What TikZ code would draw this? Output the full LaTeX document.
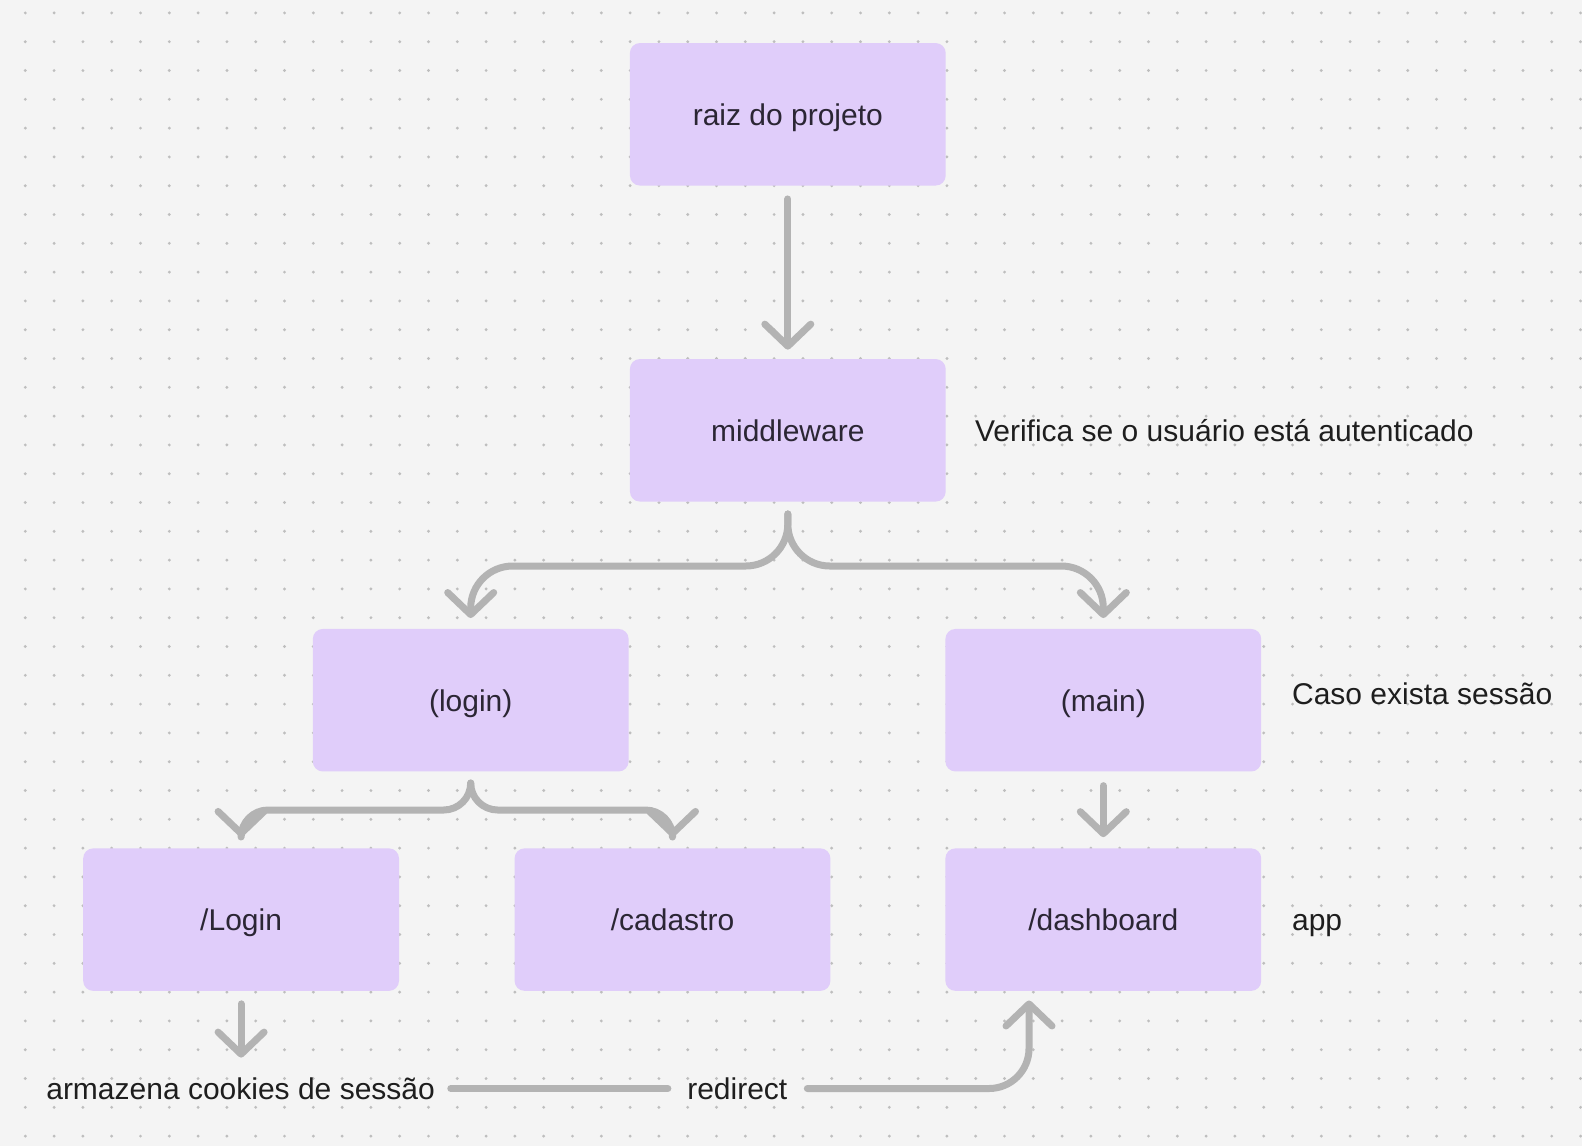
\documentclass[tikz,border=0pt]{standalone}
\usepackage{fontspec}
\setmainfont{Liberation Sans}
\usetikzlibrary{arrows.meta}
\definecolor{bg}{HTML}{F4F4F4}
\definecolor{dotc}{HTML}{BEBEBE}
\definecolor{boxfill}{HTML}{E0CDFA}
\definecolor{linegray}{HTML}{B3B3B3}
\definecolor{boxtext}{HTML}{2B2634}
\definecolor{plaintext}{HTML}{1E1E1E}
\tikzset{
  box/.style={rectangle, rounded corners=5pt, fill=boxfill, draw=none,
    minimum width=157.9pt, minimum height=71.25pt, inner sep=0pt,
    font=\fontsize{15pt}{18pt}\selectfont, text=boxtext,
    text height=10.8pt, text depth=0pt},
  lbl/.style={inner sep=0pt, font=\fontsize{15pt}{18pt}\selectfont, text=plaintext,
    text height=10.8pt, text depth=0pt},
  conn/.style={draw=linegray, line width=3.5pt, line cap=round, line join=round},
  tip/.style={-{Straight Barb[length=11pt,width=23pt,round]}}
}
\begin{document}
\begin{tikzpicture}[x=0.5pt,y=-0.5pt]
\fill[bg] (0,0) rectangle (1582,1146);
\useasboundingbox (0,0) rectangle (1582,1146);
\foreach \i in {1,...,55}{
  \foreach \j in {0,...,39}{
    \fill[dotc] ({-3.5+28.8*\i},{12.9+28.8*\j}) circle (0.8pt);
  }
}
% boxes
\node[box] (raiz)   at (787.8,114.3) {raiz do projeto};
\node[box] (mid)    at (787.8,430.3) {middleware};
\node[box] (login)  at (470.7,700.2) {(login)};
\node[box] (main)   at (1103.3,700.2) {(main)};
\node[box] (loginp) at (241.1,919.6) {/Login};
\node[box] (cad)    at (672.5,919.6) {/cadastro};
\node[box] (dash)   at (1103.3,919.6) {/dashboard};
% labels
\node[lbl, anchor=west] (verif) at (974.6,431) {Verifica se o usuário está autenticado};
\node[lbl, anchor=west] (caso)  at (1291.7,693.6) {Caso exista sessão};
\node[lbl, anchor=west] (app)   at (1291.7,919.9) {app};
\node[lbl] (cook)  at (240.6,1088.5) {armazena cookies de sessão};
\node[lbl] (redir) at (737.3,1088.5) {redirect};
% helper coordinates
\coordinate (ym) at (0,566);
\coordinate (yl) at (0,810);
% connectors
\draw[conn, tip, shorten <=6.5pt, shorten >=4.5pt] (raiz.south) -- (mid.north);
\draw[conn, tip, rounded corners=21pt, shorten <=6pt, shorten >=5.25pt]
  (mid.south) |- (login.north |- ym) -- (login.north);
\draw[conn, tip, rounded corners=21pt, shorten <=6pt, shorten >=5.25pt]
  (mid.south) |- (main.north |- ym) -- (main.north);
\draw[conn, tip, rounded corners=13.5pt, shorten <=7pt, shorten >=5.5pt]
  (login.south) |- (loginp.north |- yl) -- (loginp.north);
\draw[conn, tip, rounded corners=13.5pt, shorten <=7pt, shorten >=5.5pt]
  (login.south) |- (cad.north |- yl) -- (cad.north);
\draw[conn, tip, shorten <=6.9pt, shorten >=5.4pt] (main.south) -- (dash.north);
\draw[conn, tip, shorten <=6.3pt, shorten >=9.85pt] (loginp.south) -- (loginp.south |- cook.north);
\draw[conn, shorten <=7.75pt, shorten >=9.5pt] (cook.east) -- (redir.west);
\draw[conn, tip, rounded corners=20pt, shorten <=9.8pt, shorten >=4.6pt]
  (redir.east) -| ([xshift=-37.15pt]dash.south);
\end{tikzpicture}
\end{document}
